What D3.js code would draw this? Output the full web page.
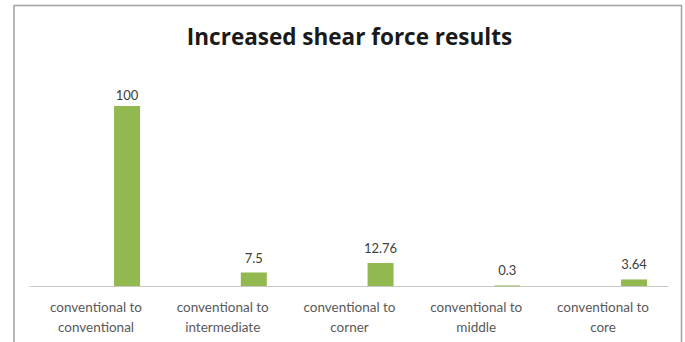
<!DOCTYPE html>
<html>
<head>
<meta charset="utf-8">
<script src="https://cdn.jsdelivr.net/npm/d3@7"></script>
<style>
  body { margin: 0; background: #fff; }
  svg { display: block; }
</style>
</head>
<body>
<div id="chart-area"></div>
<script>
// chart data
var categories = ["conventional to conventional", "conventional to intermediate",
    "conventional to corner", "conventional to middle", "conventional to core"];
var labelLines = [["conventional to", "conventional"], ["conventional to", "intermediate"],
    ["conventional to", "corner"], ["conventional to", "middle"], ["conventional to", "core"]];
var values = [100, 7.5, 12.76, 0.3, 3.64];
var valueLabels = ["100", "7.5", "12.76", "0.3", "3.64"];

var W = 685, H = 342;
var margin = { left: 32.6, right: 18.6, top: 106, bottom: 56 };
var width = W - margin.left - margin.right,
    height = H - margin.top - margin.bottom;

var svg = d3.select("#chart-area").append("svg")
    .attr("width", W)
    .attr("height", H);

// chart frame (bottom edge falls outside the picture)
svg.append("rect")
    .attr("x", 14).attr("y", 5.5)
    .attr("width", 667.5).attr("height", 360)
    .attr("fill", "#fff")
    .attr("stroke", "#a6a6a6")
    .attr("stroke-width", 1.6);

svg.append("text")
    .attr("x", 349.5).attr("y", 45)
    .attr("text-anchor", "middle")
    .attr("font-family", "'Open Sans', Lato, sans-serif")
    .attr("font-weight", "bold")
    .attr("font-size", "22.5px")
    .attr("fill", "#1a1a1a")
    .text("Increased shear force results");

var g = svg.append("g")
    .attr("transform", "translate(" + margin.left + "," + margin.top + ")");

// Scales
var x = d3.scaleBand().domain(categories).range([0, width]);
var y = d3.scaleLinear().domain([0, 100]).range([height, 0]);

var barW = x.bandwidth() * 0.205,
    barOff = x.bandwidth() * 0.245;

// category axis
var xAxis = g.append("g")
    .attr("transform", "translate(0," + height + ")")
    .call(d3.axisBottom(x).tickSize(0).tickFormat(""));
xAxis.select(".domain")
    .attr("stroke", "#c8c8c8")
    .attr("stroke-width", 1.2)
    .attr("d", "M-3,0.5H" + (width + 2));

var lbl = g.selectAll(".cat")
    .data(categories)
    .enter().append("text")
    .attr("class", "cat")
    .attr("text-anchor", "middle")
    .attr("font-family", "Lato, 'Open Sans', sans-serif")
    .attr("font-size", "13.5px")
    .attr("fill", "#595959");
lbl.each(function(d, i) {
    var t = d3.select(this);
    labelLines[i].forEach(function(s, j) {
        t.append("tspan")
            .attr("x", x(d) + x.bandwidth() / 2)
            .attr("y", height + 26 + j * 20)
            .text(s);
    });
});

// bars
g.selectAll(".bar")
    .data(values)
    .enter().append("rect")
    .attr("class", "bar")
    .attr("x", function(d, i) { return x(categories[i]) + x.bandwidth() / 2 + barOff - barW / 2; })
    .attr("y", function(d) { return y(d); })
    .attr("width", barW)
    .attr("height", function(d) { return Math.max(height - y(d), 0.8); })
    .attr("fill", "#92b94f");

// value labels (kept inside the plot area at the top)
g.selectAll(".val")
    .data(values)
    .enter().append("text")
    .attr("class", "val")
    .attr("x", function(d, i) { return x(categories[i]) + x.bandwidth() / 2 + barOff; })
    .attr("y", function(d) { return Math.max(y(d) - 10, -6); })
    .attr("text-anchor", "middle")
    .attr("font-family", "Lato, 'Open Sans', sans-serif")
    .attr("font-size", "13px")
    .attr("fill", "#404040")
    .text(function(d, i) { return valueLabels[i]; });
</script>
</body>
</html>
